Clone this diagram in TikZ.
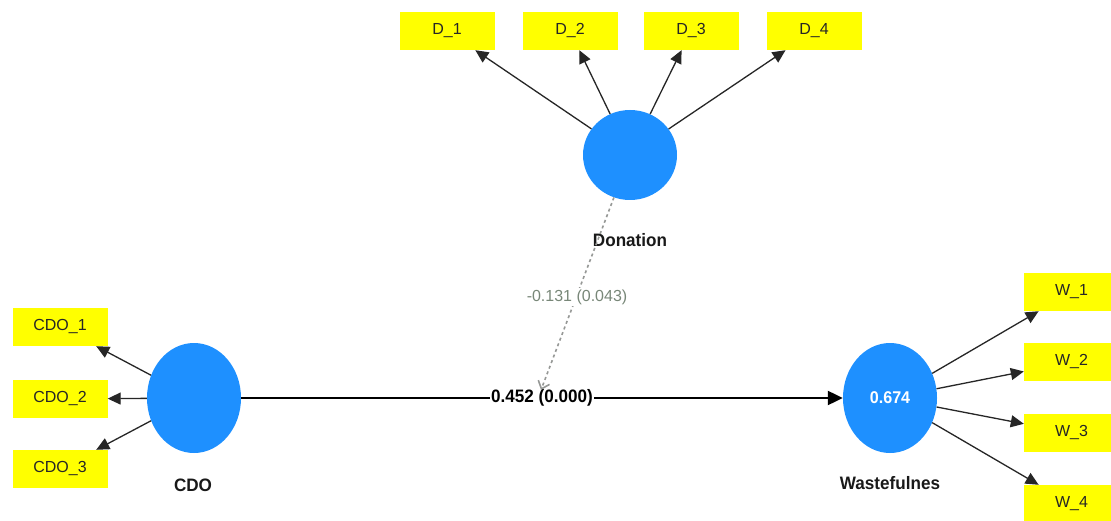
\documentclass[tikz,border=0pt]{standalone}
\usepackage{fontspec}
\setmainfont{Liberation Sans}
\newfontfamily\narfont[FakeStretch=0.95]{Liberation Sans}
\usetikzlibrary{arrows.meta,shapes.geometric}
\definecolor{latblue}{RGB}{30,144,255}
\definecolor{indyellow}{RGB}{255,255,0}
\definecolor{modgray}{RGB}{150,152,150}
\definecolor{modtext}{RGB}{120,135,120}
\tikzset{
  indbox/.style={rectangle, fill=indyellow, minimum width=95pt, minimum height=38pt, inner sep=0pt,
    font=\fontsize{16}{18}\selectfont, text=black!85},
  latent/.style={ellipse, fill=latblue, inner sep=0pt},
  latname/.style={font=\narfont\bfseries\fontsize{18}{20}\selectfont, text=black!90},
  loadarrow/.style={draw=black!85, line width=1.3pt, -{Triangle[length=13pt,width=12pt]}},
  patharrow/.style={draw=black, line width=2.2pt, -{Triangle[length=15pt,width=14pt]}},
  modarrow/.style={draw=modgray, line width=1.6pt, dash pattern=on 3pt off 3pt, -{Straight Barb[length=7pt,width=12pt]}},
  pathlabel/.style={fill=white, inner sep=1.5pt, font=\narfont\bfseries\fontsize{18}{20}\selectfont},
  modlabel/.style={fill=white, inner sep=1.5pt, text=modtext, font=\fontsize{16}{18}\selectfont}
}
\begin{document}
\begin{tikzpicture}[x=1pt,y=-1pt]
\useasboundingbox[fill=white] (0,0) rectangle (1111,521);
% indicator boxes
\node[indbox] (D1) at (447,31) {D\_1};
\node[indbox] (D2) at (570,31) {D\_2};
\node[indbox] (D3) at (691,31) {D\_3};
\node[indbox] (D4) at (814,31) {D\_4};
\node[indbox] (C1) at (60,327) {CDO\_1};
\node[indbox] (C2) at (60,399) {CDO\_2};
\node[indbox] (C3) at (60,469) {CDO\_3};
\node[indbox] (W1) at (1071.5,292) {W\_1};
\node[indbox] (W2) at (1071.5,362) {W\_2};
\node[indbox] (W3) at (1071.5,433) {W\_3};
\node[indbox] (W4) at (1071.5,504) {W\_4};
% latent variables
\node[latent, minimum width=94pt, minimum height=90pt] (Don) at (630,155) {};
\node[latent, minimum width=94pt, minimum height=110pt] (CDO) at (194,398) {};
\node[latent, minimum width=94pt, minimum height=110pt, text=white,
  font=\narfont\bfseries\fontsize{17}{19}\selectfont] (Wst) at (890,398) {0.674};
% names
\node[latname] (DonL) at (630,240) {Donation};
\node[latname] (CDOL) at (193,485) {CDO};
\node[latname] (WstL) at (890,483) {Wastefulnes};
% loadings
\foreach \b in {D1,D2,D3,D4} \draw[loadarrow] (Don) -- (\b);
\foreach \b in {C1,C2,C3} \draw[loadarrow] (CDO) -- (\b);
\foreach \b in {W1,W2,W3,W4} \draw[loadarrow] (Wst) -- (\b);
% structural path
\draw[patharrow] (CDO) -- node[pathlabel] (pl) {0.452 (0.000)} (Wst);
% moderation
\coordinate (mod) at (541,390);
\draw[modarrow] (Don) -- (mod);
\node[modlabel] (ml) at (577,297) {-0.131 (0.043)};
\end{tikzpicture}
\end{document}
